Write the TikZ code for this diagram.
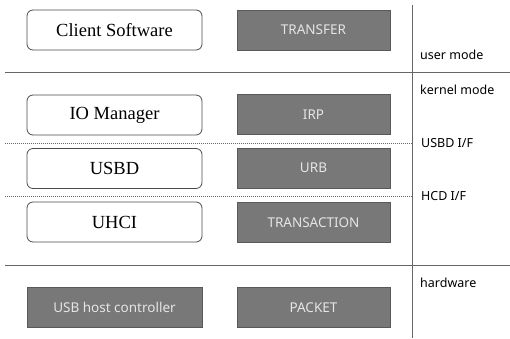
\documentclass[tikz,border=0pt]{standalone}
\usepackage{fontspec}
\setmainfont{Liberation Serif}
\newfontfamily\lblfont{Noto Sans}
\begin{document}
\begin{tikzpicture}[x=1pt,y=-1pt,
  wbox/.style={draw=black!70,line width=0.8pt,rounded corners=6pt,fill=white,minimum width=175pt,minimum height=40pt,inner sep=0pt,font=\fontsize{18.5}{20}\selectfont},
  gbox/.style={draw=black!65,line width=0.8pt,fill=black!53,minimum width=153pt,minimum height=40pt,inner sep=0pt,text=white!90!black,font=\lblfont\fontsize{13.5}{15}\selectfont},
  sidelbl/.style={anchor=west,inner sep=0pt,font=\lblfont\fontsize{12.5}{14}\selectfont},
  sep/.style={draw=black!60,line width=0.9pt},
  dsep/.style={draw=black!60,line width=0.9pt,dash pattern=on 1pt off 1pt}]
\useasboundingbox (0,0) rectangle (510,338);
% boxes
\node[wbox] (cs) at (114.5,30) {Client Software};
\node[wbox] (io) at (114.5,115) {IO Manager};
\node[wbox] (usbd) at (114.5,168.5) {USBD};
\node[wbox] (uhci) at (114.5,222) {UHCI};
\node[gbox,minimum width=175pt] (hc) at (114.5,307.5) {USB host controller};
\node[gbox] (tr) at (313.5,30) {TRANSFER};
\node[gbox] (irp) at (313.5,114.5) {IRP};
\node[gbox] (urb) at (313.5,168) {URB};
\node[gbox] (ta) at (313.5,222.5) {TRANSACTION};
\node[gbox] (pk) at (313.5,307.5) {PACKET};
% separators
\coordinate (vt) at (412,5);
\coordinate (vb) at (412,338);
\draw[sep] (vt) -- (vb);
\coordinate (h1l) at (5,72);
\coordinate (h1r) at (510,72);
\draw[sep] (h1l) -- (h1r);
\coordinate (h2l) at (5,265);
\coordinate (h2r) at (510,265);
\draw[sep] (h2l) -- (h2r);
\coordinate (d1l) at (5,143);
\coordinate (d1r) at (412,143);
\draw[dsep] (d1l) -- (d1r);
\coordinate (d2l) at (5,196);
\coordinate (d2r) at (412,196);
\draw[dsep] (d2l) -- (d2r);
% labels
\node[sidelbl] (um) at (420,55) {user mode};
\node[sidelbl] (km) at (420,90) {kernel mode};
\node[sidelbl] (ui) at (421,143) {USBD I/F};
\node[sidelbl] (hi) at (421,196) {HCD I/F};
\node[sidelbl] (hw) at (420,283) {hardware};
\end{tikzpicture}
\end{document}
